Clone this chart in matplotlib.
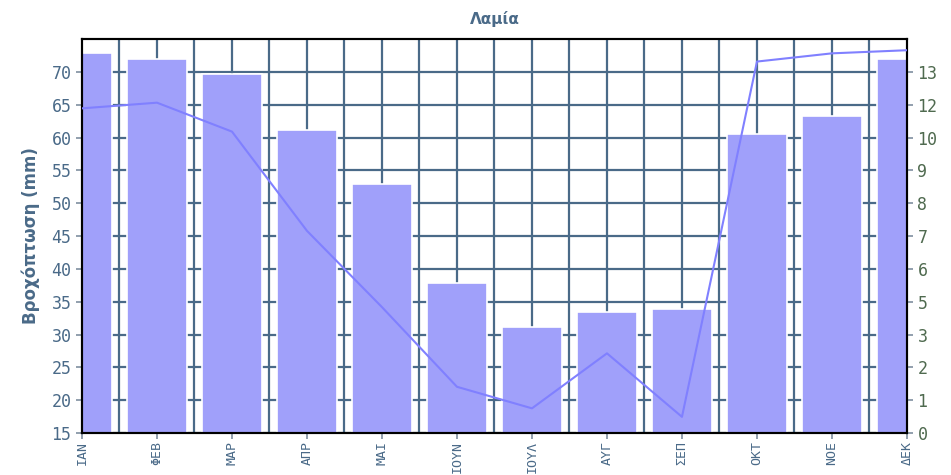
import matplotlib
matplotlib.use("Agg")
from matplotlib import pyplot as plt
import numpy as np

months = ["ΙΑΝ", "ΦΕΒ", "ΜΑΡ", "ΑΠΡ", "ΜΑΙ", "ΙΟΥΝ", "ΙΟΥΛ", "ΑΥΓ", "ΣΕΠ", "ΟΚΤ", "ΝΟΕ", "ΔΕΚ"]
rain = [72.8, 72.0, 69.6, 61.1, 52.9, 37.8, 31.1, 33.4, 33.9, 60.6, 63.2, 72.0]
line_vals = [11.45, 11.65, 10.63, 7.13, 4.44, 1.63, 0.87, 2.81, 0.57, 13.1, 13.39, 13.5]

left_ticks = [15, 20, 25, 30, 35, 40, 45, 50, 55, 60, 65, 70]
right_step = 1.158
right_top = 12 * right_step

grid_c = "#4a6a88"
bar_c = "#a0a0fa"
line_c = "#8080ff"
lab_c = "#4a6a88"
right_lab_c = "#4f6a4f"

plt.rcParams['font.family'] = ['DejaVu Sans Mono', 'DejaVu Sans']

fig = plt.figure(figsize=(9.51, 4.75), dpi=100)
ax = fig.add_axes([0.0862, 0.0884, 0.8675, 0.8295])

x = np.arange(len(months))
ax.set_xlim(0, 11)
ax.set_ylim(15, 75)

# grid every half month, horizontal at ticks
for gx in np.arange(0.5, 11, 0.5):
    ax.axvline(gx, color=grid_c, lw=1.6, zorder=1)
for gy in left_ticks:
    ax.axhline(gy, color=grid_c, lw=1.6, zorder=1)

ax.bar(x, [r - 15 for r in rain], bottom=15, width=0.8, color=bar_c,
       edgecolor="white", linewidth=1.2, zorder=2)

ax.set_yticks(left_ticks)
ax.set_yticklabels([str(t) for t in left_ticks], color=lab_c, fontsize=12)
ax.set_xticks(x)
ax.set_xticklabels(months, rotation=90, color=lab_c, fontsize=9.5, va="top")
ax.tick_params(axis="both", color="#7f8fa0", length=4, width=1.2)
ax.tick_params(axis="x", pad=1.5)
ax.set_ylabel("Βροχόπτωση (mm)", color=lab_c, fontsize=12, fontweight="bold",
              family="DejaVu Sans", labelpad=8)
ax.set_title("Λαμία", color=lab_c, fontsize=11, fontweight="bold",
             family="DejaVu Sans", pad=11)

for s in ax.spines.values():
    s.set_color("black")
    s.set_linewidth(1.5)

ax2 = ax.twinx()
ax2.set_ylim(0, right_top)
ax2.plot(x, line_vals, color=line_c, lw=1.5, zorder=5)
rt = [i * right_step for i in range(12)]
ax2.set_yticks(rt)
ax2.set_yticklabels([str(int(round(v))) for v in rt], color=right_lab_c, fontsize=12)
ax2.tick_params(axis="y", color="#7f8fa0", length=4, width=1.2)
for s in ax2.spines.values():
    s.set_color("black")
    s.set_linewidth(1.5)

fig.savefig("out.png", dpi=100)
